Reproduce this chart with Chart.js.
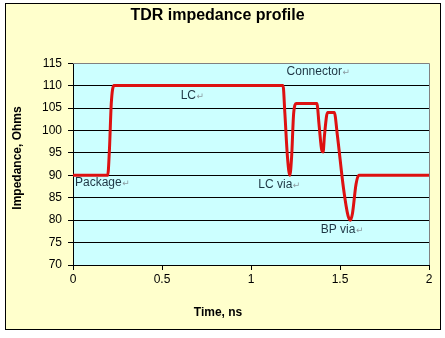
<!DOCTYPE html>
<html>
<head>
<meta charset="utf-8">
<script src="https://cdn.jsdelivr.net/npm/chart.js@4/dist/chart.umd.min.js"></script>
<style>
html,body{margin:0;padding:0;background:#fff;}
#wrap{width:445px;height:338px;}
</style>
</head>
<body>
<div id="wrap"><canvas id="c" width="445" height="338"></canvas></div>
<script>
// Time axis (ns) and impedance (Ohms)
const timeNs = [0, 0.195, 0.205, 0.215, 0.23, 1.18, 1.19, 1.205, 1.218, 1.228, 1.24, 1.255, 1.37, 1.383, 1.398, 1.405, 1.413, 1.43, 1.468, 1.485, 1.52, 1.545, 1.558, 1.57, 1.59, 1.605, 2];
const impedanceOhms = [90, 90, 96, 106, 110, 110, 104, 94, 90, 94, 104, 106, 106, 101, 95.5, 95.2, 99, 104, 104, 99, 87, 81, 80, 81.5, 88, 90, 90];
const xTicks = [0, 0.5, 1, 1.5, 2];
const yTicks = [70, 75, 80, 85, 90, 95, 100, 105, 110, 115];
// Callout labels: text and anchor in data units (time, impedance)
const labelTexts = ["Package", "LC", "Connector", "LC via", "BP via"];
const labelTimes = [0.011, 0.605, 1.20, 1.041, 1.392];
const labelValues = [88.3, 107.7, 113.1, 88.0, 77.95];
const xTitle = "Time, ns";
const yTitle = "Impedance, Ohms";

const points = timeNs.map((t, i) => ({x: t, y: impedanceOhms[i]}));

const bgPlugin = {
  id: 'bg',
  beforeDraw(chart) {
    const {ctx, chartArea: a} = chart;
    ctx.save();
    ctx.fillStyle = '#ffffff';
    ctx.fillRect(0, 0, chart.width, chart.height);
    ctx.fillStyle = '#FFFFCC';
    ctx.fillRect(5, 3, 435, 326);
    ctx.strokeStyle = '#000000';
    ctx.lineWidth = 1;
    ctx.strokeRect(5.5, 3.5, 435, 326);
    ctx.fillStyle = '#CCFFFF';
    ctx.fillRect(a.left, a.top, a.right - a.left, a.bottom - a.top);
    ctx.restore();
  },
  beforeDatasetsDraw(chart) {
    const {ctx, chartArea: a} = chart;
    ctx.save();
    ctx.strokeStyle = '#808080';
    ctx.lineWidth = 1;
    ctx.beginPath();
    ctx.moveTo(a.left, Math.round(a.top) + 0.5);
    ctx.lineTo(Math.round(a.right) + 0.5, Math.round(a.top) + 0.5);
    ctx.lineTo(Math.round(a.right) + 0.5, a.bottom);
    ctx.stroke();
    ctx.restore();
  },
  afterDatasetsDraw(chart) {
    const {ctx} = chart;
    const xs = chart.scales.x, ys = chart.scales.y;
    ctx.save();
    ctx.textBaseline = 'middle';
    ctx.textAlign = 'left';
    labelTexts.forEach((txt, i) => {
      const px = xs.getPixelForValue(labelTimes[i]);
      const py = ys.getPixelForValue(labelValues[i]);
      ctx.font = '12px "Liberation Sans", Arial, sans-serif';
      ctx.fillStyle = '#1E3644';
      ctx.fillText(txt, px, py);
      const w = ctx.measureText(txt).width;
      ctx.font = '9px "DejaVu Sans", sans-serif';
      ctx.fillStyle = '#8a9aa0';
      ctx.fillText('\u21B5', px + w + 0.5, py + 1);
    });
    // axis titles (Excel centres them on the whole chart rather than the plot)
    ctx.fillStyle = '#000000';
    ctx.font = 'bold 12px "Liberation Sans", Arial, sans-serif';
    ctx.textAlign = 'center';
    ctx.fillText(xTitle, 218, 313);
    ctx.translate(18, 158);
    ctx.rotate(-Math.PI / 2);
    ctx.fillText(yTitle, 0, 0);
    ctx.restore();
  }
};

new Chart(document.getElementById('c'), {
  type: 'line',
  data: {
    datasets: [{
      data: points,
      borderColor: '#DD1111',
      borderWidth: 3,
      pointRadius: 0,
      fill: false,
      cubicInterpolationMode: 'monotone'
    }]
  },
  options: {
    responsive: false,
    devicePixelRatio: 1,
    animation: false,
    layout: {padding: {top: 0, left: 6, right: 16, bottom: 9}},
    plugins: {
      legend: {display: false},
      tooltip: {enabled: false},
      title: {
        display: true,
        text: 'TDR impedance profile',
        color: '#000000',
        font: {family: '"Liberation Sans", Arial, sans-serif', size: 16, weight: 'bold', lineHeight: 1.2},
        padding: {top: 6, bottom: 38}
      }
    },
    scales: {
      x: {
        type: 'linear',
        min: 0, max: 2,
        afterBuildTicks(scale) { scale.ticks = xTicks.map(v => ({value: v})); },
        afterFit(scale) { scale.height = 64; },
        ticks: {
          autoSkip: false, maxRotation: 0,
          color: '#000000',
          padding: 2,
          font: {family: '"Liberation Sans", Arial, sans-serif', size: 12},
          callback: v => String(v)
        },
        grid: {drawOnChartArea: false, drawTicks: true, tickLength: 5, color: '#000000'},
        border: {color: '#000000', width: 1},
        title: {display: false}
      },
      y: {
        type: 'linear',
        min: 70, max: 115,
        afterBuildTicks(scale) { scale.ticks = yTicks.map(v => ({value: v})); },
        afterFit(scale) { scale.width = 67; },
        ticks: {
          color: '#000000',
          padding: 6,
          font: {family: '"Liberation Sans", Arial, sans-serif', size: 12}
        },
        grid: {color: '#000000', lineWidth: 1, drawTicks: true, tickLength: 5},
        border: {color: '#000000', width: 1},
        title: {display: false}
      }
    }
  },
  plugins: [bgPlugin]
});
</script>
</body>
</html>
